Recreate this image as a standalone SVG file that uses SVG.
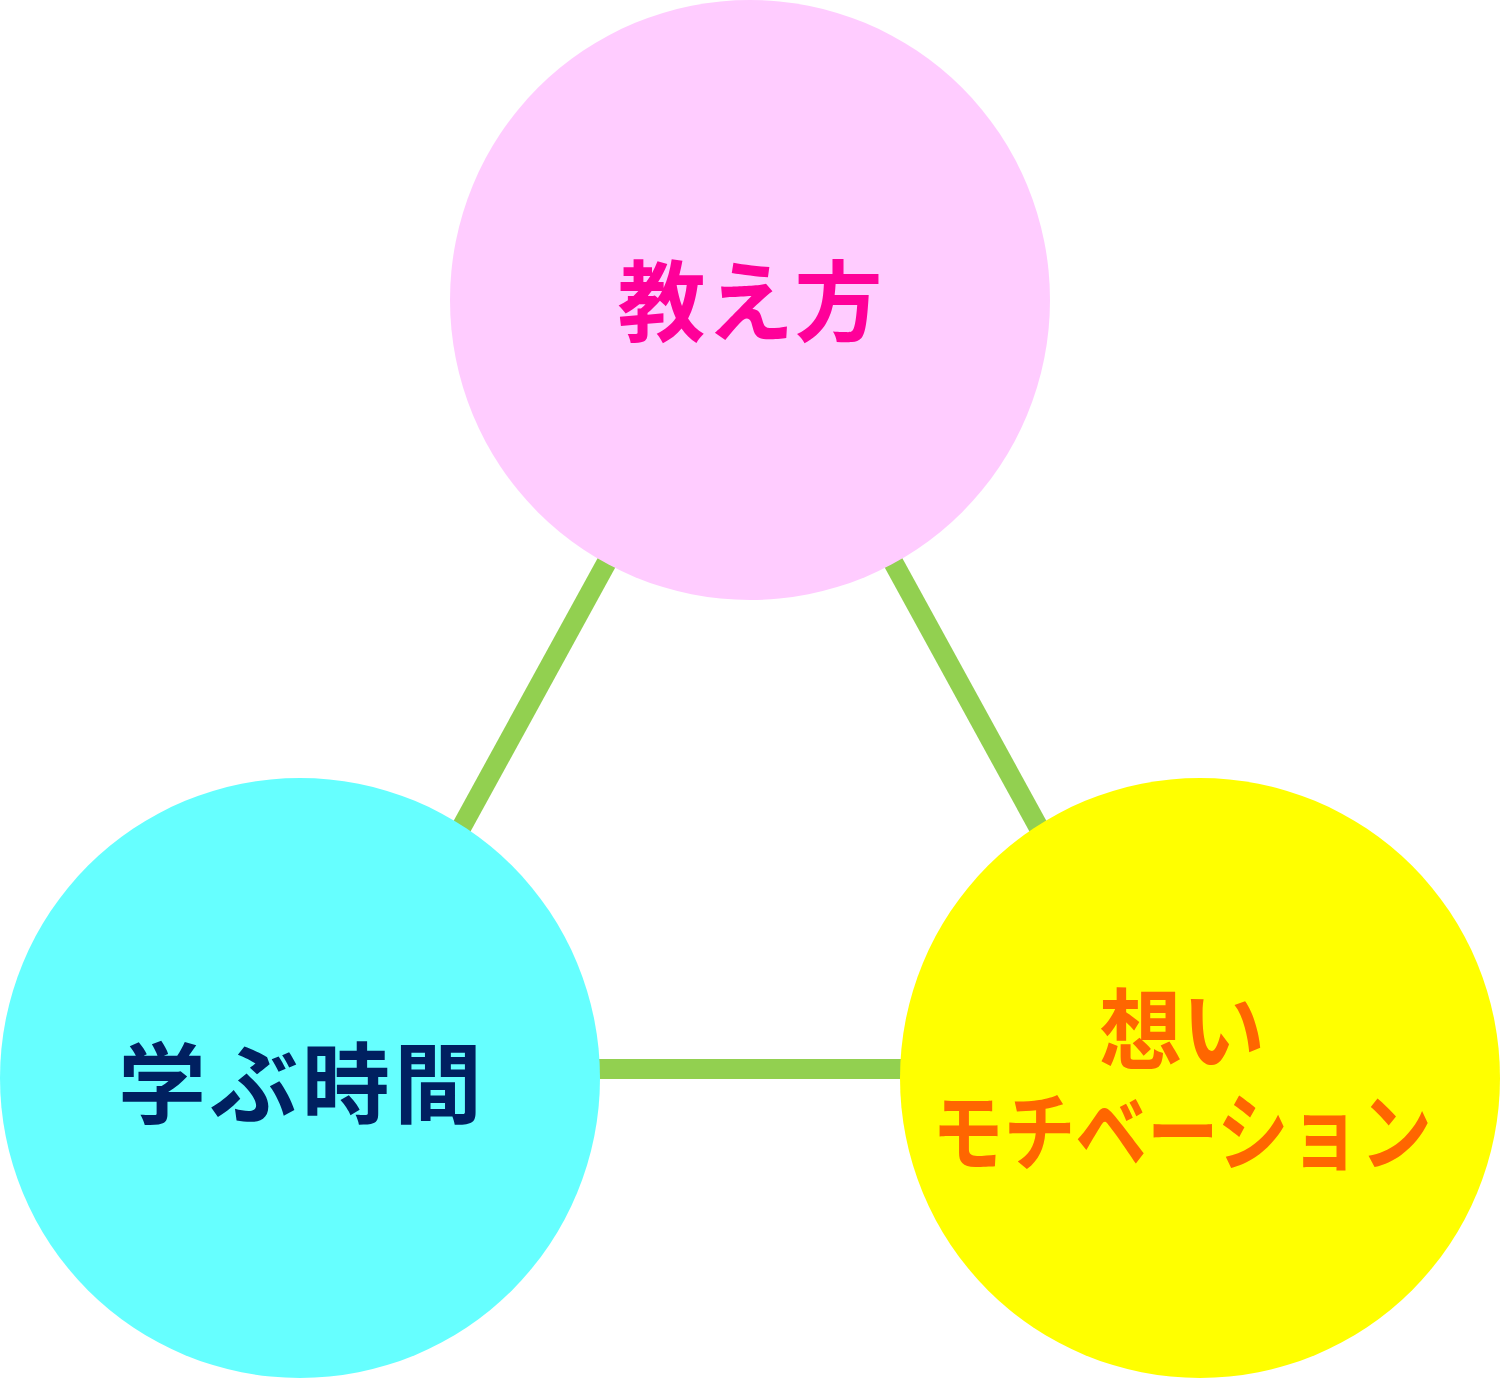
<svg xmlns="http://www.w3.org/2000/svg" width="1500" height="1378" viewBox="0 0 1500 1378">
<style>
.lbl{font-family:"Noto Sans CJK JP","Noto Sans",sans-serif;font-weight:bold;text-anchor:middle}
.conn{stroke:#92D050;stroke-width:20;fill:none}
</style>
<rect width="1500" height="1378" fill="#FFFFFF"/>
<g id="connectors">
<line class="conn" x1="619" y1="540" x2="449" y2="850"/>
<line class="conn" x1="881" y1="540" x2="1051" y2="850"/>
<line class="conn" x1="580" y1="1069" x2="920" y2="1069"/>
</g>
<g id="node-oshiekata">
<circle cx="750" cy="300" r="300" fill="#FFCCFF"/>
<text class="lbl" x="750" y="334" font-size="88" fill="#FF0099" textLength="265" lengthAdjust="spacing">教え方</text>
</g>
<g id="node-manabu">
<circle cx="300" cy="1078" r="300" fill="#66FFFF"/>
<text class="lbl" x="300" y="1116" font-size="88" fill="#002060" textLength="364" lengthAdjust="spacing">学ぶ時間</text>
</g>
<g id="node-omoi">
<circle cx="1200" cy="1078" r="300" fill="#FFFF00"/>
<text class="lbl" x="1182" y="1062" font-size="88" fill="#FF6600" textLength="166" lengthAdjust="spacingAndGlyphs">想い</text>
<text class="lbl" x="1182" y="1164" font-size="86" fill="#FF6600" textLength="500" lengthAdjust="spacingAndGlyphs">モチベーション</text>
</g>
</svg>
